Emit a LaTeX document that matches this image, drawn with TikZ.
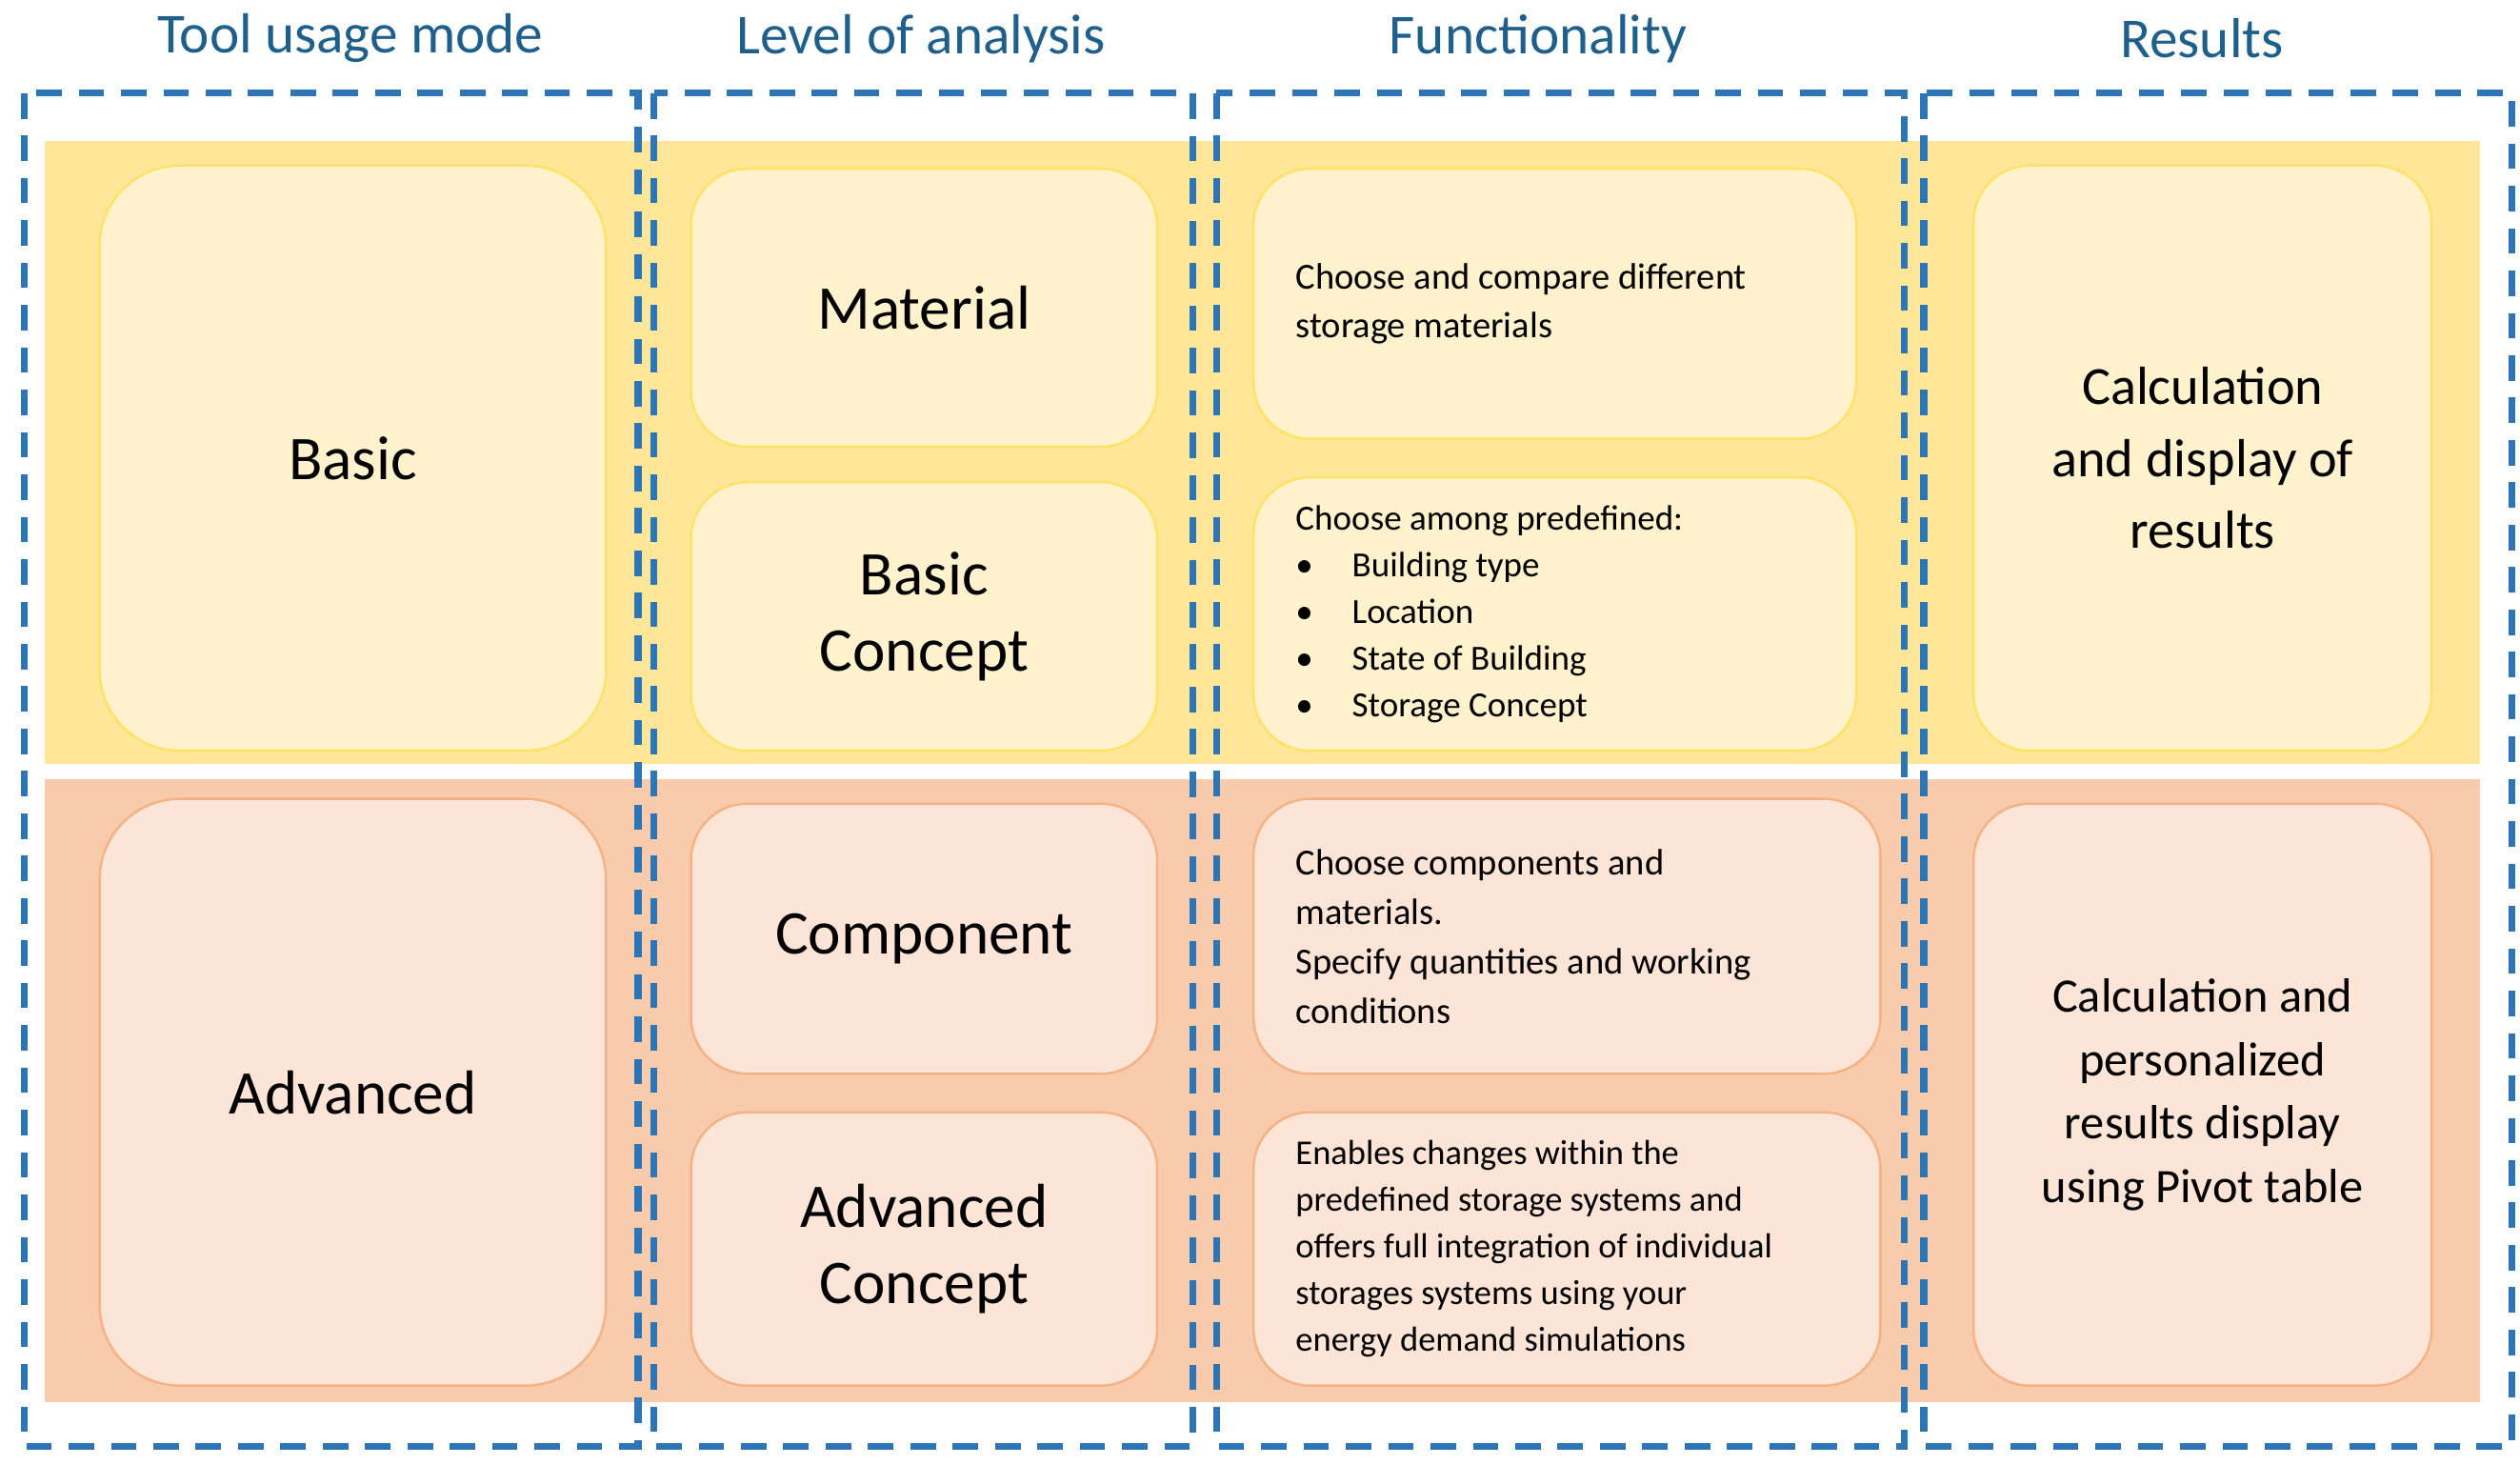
\documentclass[tikz,border=0pt]{standalone}
\usepackage{fontspec}
\setmainfont{Carlito}
\begin{document}
\begin{tikzpicture}[x=0.02cm,y=-0.02cm,
  ybox/.style={draw=yellow!70!orange!60, line width=0.8pt, fill=ylw, rounded corners=0.7cm, align=center, font=\fontsize{22}{27}\selectfont, inner sep=0pt},
  sbox/.style={draw=salb, line width=0.8pt, fill=sal, rounded corners=0.7cm, align=center, font=\fontsize{22}{27}\selectfont, inner sep=0pt},
  ftext/.style={font=\fontsize{13}{17.5}\selectfont, align=left},
  col/.style={draw=dblue, line width=2.4pt, dash pattern=on 9pt off 6pt},
  head/.style={text=hblue, font=\fontsize{20}{24}\selectfont}]
\definecolor{ylw}{HTML}{FFF2CC}
\definecolor{yband}{HTML}{FFE699}
\definecolor{sal}{HTML}{FCE4D6}
\definecolor{salb}{HTML}{F4B183}
\definecolor{sband}{HTML}{F8CBAD}
\definecolor{dblue}{HTML}{2E75B6}
\definecolor{hblue}{HTML}{1F5F8B}
\useasboundingbox (0,0) rectangle (1568,911);
\fill[yband] (28,88) rectangle (1543,475);
\fill[sband] (28,485) rectangle (1543,872);
\node[head] (h1) at (218,24) {Tool usage mode};
\node[head] (h2) at (573,24) {Level of analysis};
\node[head] (h3) at (957,24) {Functionality};
\node[head] (h4) at (1370,24) {Results};
\draw[col] (15,58) rectangle (397,900);
\draw[col] (407,58) rectangle (742,900);
\draw[col] (757,58) rectangle (1185,900);
\draw[col] (1197,58) rectangle (1563,900);
\node[ybox, minimum width={315*0.02cm}, minimum height={364*0.02cm}, rounded corners=1cm] (basic) at (219.5,285) {Basic};
\node[sbox, minimum width={315*0.02cm}, minimum height={365*0.02cm}, rounded corners=1cm] (adv) at (219.5,679.5) {Advanced};
\node[ybox, minimum width={290*0.02cm}, minimum height={173*0.02cm}] (mat) at (575,191.5) {Material};
\node[ybox, minimum width={290*0.02cm}, minimum height={167*0.02cm}] (bc) at (575,383.5) {Basic\\Concept};
\node[sbox, minimum width={290*0.02cm}, minimum height={168*0.02cm}] (comp) at (575,584) {Component};
\node[sbox, minimum width={290*0.02cm}, minimum height={170*0.02cm}] (ac) at (575,777) {Advanced\\Concept};
\node[ybox, minimum width={375*0.02cm}, minimum height={168*0.02cm}] (f1) at (967.5,189) {};
\node[ftext, anchor=west] (t1) at (800,189) {Choose and compare different\\storage materials};
\node[ybox, minimum width={375*0.02cm}, minimum height={170*0.02cm}] (f2) at (967.5,382) {};
\node[ftext, anchor=west, font=\fontsize{12.5}{16.5}\selectfont] (t2) at (800,382) {Choose among predefined:\\
\textbullet\hspace{1.1em}Building type\\
\textbullet\hspace{1.1em}Location\\
\textbullet\hspace{1.1em}State of Building\\
\textbullet\hspace{1.1em}Storage Concept};
\node[sbox, minimum width={390*0.02cm}, minimum height={171*0.02cm}] (f3) at (975,582.5) {};
\node[ftext, anchor=west] (t3) at (800,582.5) {Choose components and\\materials.\\Specify quantities and working\\conditions};
\node[sbox, minimum width={390*0.02cm}, minimum height={170*0.02cm}] (f4) at (975,777) {};
\node[ftext, anchor=west, font=\fontsize{12.3}{16.5}\selectfont] (t4) at (800,777) {Enables changes within the\\predefined storage systems and\\offers full integration of individual\\storages systems using your\\energy demand simulations};
\node[ybox, minimum width={285*0.02cm}, minimum height={364*0.02cm}, font=\fontsize{19}{25.5}\selectfont] (r1) at (1370.5,285) {Calculation\\and display of\\results};
\node[sbox, minimum width={285*0.02cm}, minimum height={362*0.02cm}, font=\fontsize{17}{22.5}\selectfont] (r2) at (1370.5,681) {Calculation and\\personalized\\results display\\using Pivot table};
\end{tikzpicture}
\end{document}
